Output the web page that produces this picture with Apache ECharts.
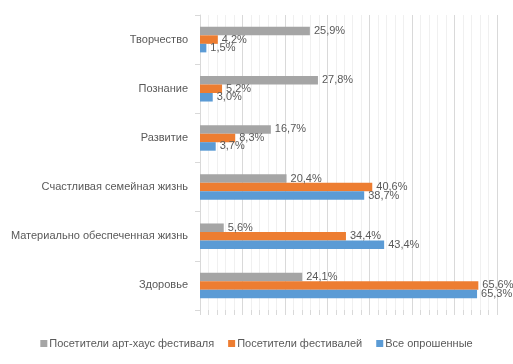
<!DOCTYPE html>
<html><head><meta charset="utf-8">
<script src="https://cdn.jsdelivr.net/npm/echarts@6/dist/echarts.min.js"></script>
<style>html,body{margin:0;padding:0;background:#fff}#c{width:513px;height:364px}</style>
</head><body><div id="c"></div>
<script>
const categories = ["Творчество","Познание","Развитие","Счастливая семейная жизнь","Материально обеспеченная жизнь","Здоровье"];
const seriesNames = ["Посетители арт-хаус фестиваля","Посетители фестивалей","Все опрошенные"];
const artHouse = [25.9, 27.8, 16.7, 20.4, 5.6, 24.1];
const festivals = [4.2, 5.2, 8.3, 40.6, 34.4, 65.6];
const allResp = [1.5, 3.0, 3.7, 38.7, 43.4, 65.3];
const colors = ["#A5A5A5","#ED7D31","#5B9BD5"];
const font = "Liberation Sans";
const chart = echarts.init(document.getElementById('c'));
function mk(name, data, color){
  return {name, type:'bar', data, barGap:'0%', barCategoryGap:'48%',
    itemStyle:{color},
    label:{show:true, position:'right', distance:4, color:'#595959', fontSize:11, fontFamily:font,
      formatter:p=>p.value.toFixed(1).replace('.',',')+'%'}};
}
chart.setOption({
  animation:false,
  color:colors,
  grid:{left:200,right:16,top:15,bottom:54},
  legend:{bottom:10,left:'center',itemWidth:7,itemHeight:7,itemGap:14,icon:'rect',
    textStyle:{color:'#595959',fontSize:11,fontFamily:font,padding:[0,0,0,-3]}},
  xAxis:{type:'value',min:0,max:70,interval:10,
    axisLabel:{show:false},axisLine:{show:true,lineStyle:{color:'rgba(0,0,0,0)'}},
    axisTick:{show:true,length:5,lineStyle:{color:'#d9d9d9'}},
    minorTick:{show:true,splitNumber:5,length:5,lineStyle:{color:'#d9d9d9'}},
    splitLine:{show:true,lineStyle:{color:'#d9d9d9'}},
    minorSplitLine:{show:true,lineStyle:{color:'#f0f0f0'}}},
  yAxis:{type:'category',data:categories,inverse:true,
    axisLine:{show:true,lineStyle:{color:'#d9d9d9'}},
    axisTick:{show:true,length:5,lineStyle:{color:'#d9d9d9'}},
    axisLabel:{color:'#595959',fontSize:11,fontFamily:font,margin:12}},
  series:[mk(seriesNames[0],artHouse,colors[0]),mk(seriesNames[1],festivals,colors[1]),mk(seriesNames[2],allResp,colors[2])]
});
</script></body></html>
